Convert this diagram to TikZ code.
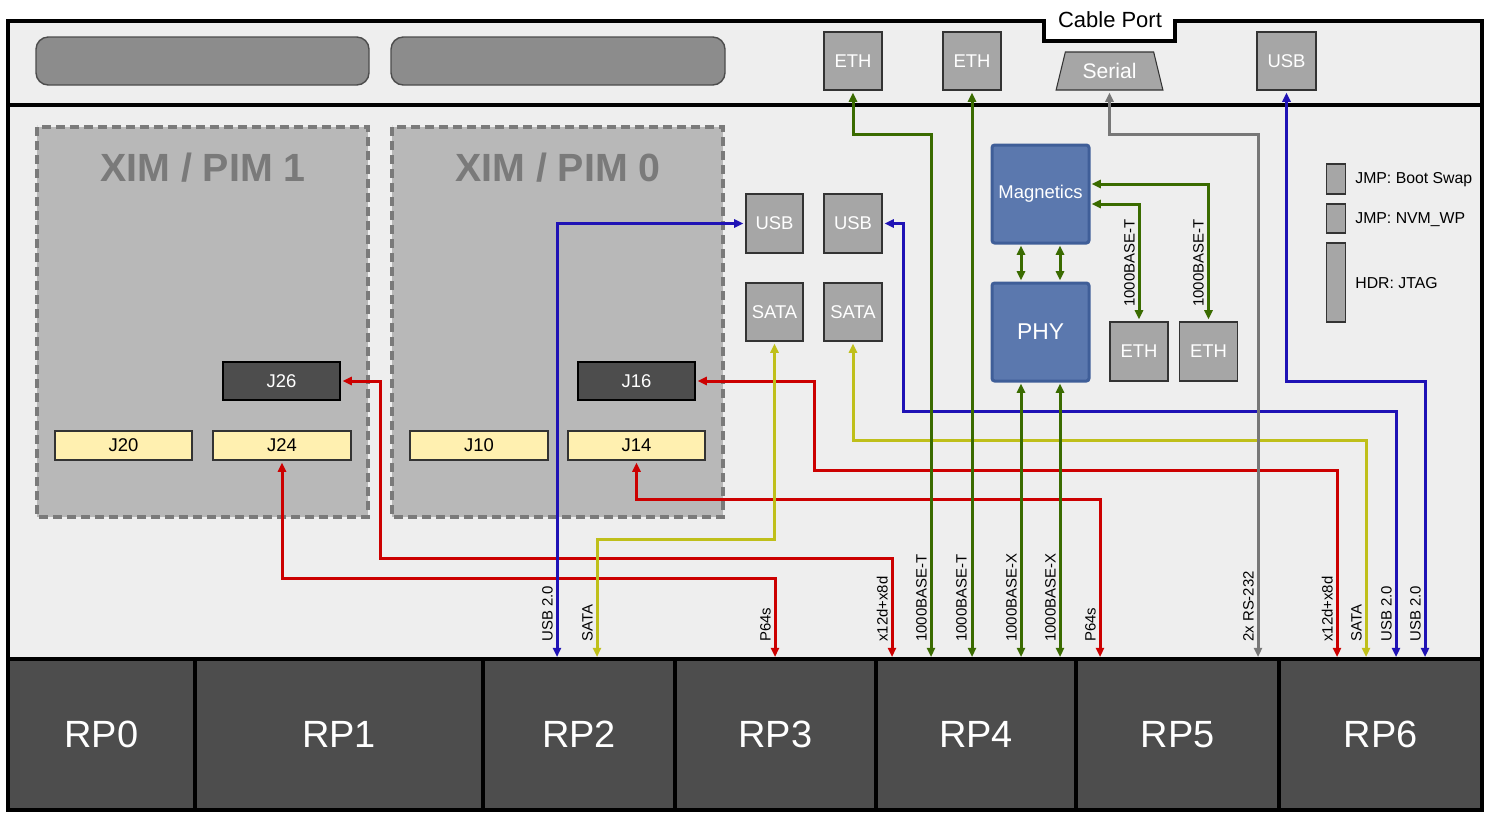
\documentclass[tikz,border=0pt]{standalone}
\usepackage{fontspec}
\setmainfont{Liberation Sans}
\usetikzlibrary{arrows.meta,shapes.geometric}

\newdimen\pxu
\pxu=0.02cm
\newcommand{\pxfont}[1]{\fontsize{#1}{#1}\selectfont}

\definecolor{panel}{HTML}{EEEEEE}
\definecolor{pillgray}{HTML}{8C8C8C}
\definecolor{portgray}{HTML}{A6A6A6}
\definecolor{pimfill}{HTML}{B8B8B8}
\definecolor{pimline}{HTML}{7A7A7A}
\definecolor{conn}{HTML}{4D4D4D}
\definecolor{hdr}{HTML}{FFF0B0}
\definecolor{chipfill}{HTML}{5B78AE}
\definecolor{chipline}{HTML}{3F5E98}
\definecolor{sigred}{HTML}{CC0000}
\definecolor{sigblue}{HTML}{1F12B5}
\definecolor{siggreen}{HTML}{3A6B00}
\definecolor{sigyellow}{HTML}{BFBF1A}
\definecolor{siggray}{HTML}{777777}

\begin{document}
\begin{tikzpicture}[
        x=0.02cm, y=-0.02cm,
        >={Triangle[length=5.2pt,width=4.6pt]},
        every node/.style={font=\pxfont{10.5}},
        wire/.style={line width=3\pxu,<->},
        port/.style={rectangle,draw=black!80,fill=portgray,text=white,
            line width=0.6pt,inner sep=0pt,outer sep=1.5pt},
        jack/.style={port,minimum width=58\pxu,minimum height=58\pxu},
        jumper/.style={port,minimum width=19\pxu},
        header/.style={rectangle,draw=black!80,fill=hdr,line width=0.6pt,
            minimum width=137\pxu,minimum height=29\pxu,inner sep=0pt,outer sep=1.5pt},
        plug/.style={rectangle,draw=black,fill=conn,text=white,line width=0.6pt,
            minimum width=117\pxu,minimum height=38\pxu,inner sep=0pt,outer sep=1.5pt},
        chip/.style={rectangle,rounded corners=1.5pt,draw=chipline,fill=chipfill,
            text=white,line width=3\pxu,minimum width=97\pxu,minimum height=98\pxu,
            inner sep=0pt,outer sep=1.5pt},
        rpbox/.style={rectangle,draw=black,fill=conn,text=white,line width=4\pxu,
            minimum height=151\pxu,inner sep=0pt,font=\pxfont{21.6}},
        pimbox/.style={fill=pimfill,draw=pimline,line width=4\pxu,
            dash pattern=on 9\pxu off 5\pxu},
        pimtitle/.style={text=pimline,font=\bfseries\pxfont{22.4}},
        pill/.style={fill=pillgray,draw=black!70,line width=0.8pt,rounded corners=7pt},
        lanelabel/.style={rotate=90,anchor=south west,inner sep=0pt,font=\pxfont{8.5}},
        note/.style={anchor=base west,inner sep=0pt,font=\pxfont{9}}
    ]

    \useasboundingbox (0,0) rectangle (1491,812);
    \fill[white] (0,0) rectangle (1491,812);

    % Chassis panel
    \fill[panel] (8,21) -- (1044,21) -- (1044,41) -- (1175,41) -- (1175,21)
        -- (1482,21) -- (1482,810) -- (8,810) -- cycle;
    \node[anchor=base,font=\pxfont{12.5}] (cableport) at (1110,27) {Cable Port};

    % Front bays
    \draw[pill] (36,37) rectangle (369,85);
    \draw[pill] (391,37) rectangle (725,85);

    % Front ports
    \node[jack] (ethtopa) at (853,61) {ETH};
    \node[jack] (ethtopb) at (972,61) {ETH};
    \node[port,trapezium,trapezium left angle=70,trapezium right angle=70,
        trapezium stretches=true,minimum width=107\pxu,minimum height=38\pxu,
        font=\pxfont{12}] (serial) at (1109.5,71) {Serial};
    \node[jack,minimum width=59\pxu] (usbtop) at (1286.5,61) {USB};

    % Module slots
    \draw[pimbox] (37,127) rectangle (368,517);
    \draw[pimbox] (392,127) rectangle (723,517);
    \node[pimtitle] (pim1) at (203,168) {XIM / PIM 1};
    \node[pimtitle] (pim0) at (558,168) {XIM / PIM 0};

    \node[plug] (j26) at (281.5,381) {J26};
    \node[plug] (j16) at (636.5,381) {J16};
    \node[header] (j20) at (123.5,445.5) {J20};
    \node[header,minimum width=138\pxu] (j24) at (282,445.5) {J24};
    \node[header,minimum width=138\pxu] (j10) at (479,445.5) {J10};
    \node[header] (j14) at (636.5,445.5) {J14};

    % Board connectors
    \node[jack,minimum width=57\pxu,minimum height=59\pxu] (usba) at (774.5,223.5) {USB};
    \node[jack,minimum height=59\pxu] (usbb) at (853,223.5) {USB};
    \node[jack,minimum width=57\pxu] (sataa) at (774.5,312) {SATA};
    \node[jack] (satab) at (853,312) {SATA};

    \node[chip] (magn) at (1040.5,194) {Magnetics};
    \node[chip,font=\pxfont{13}] (phy) at (1040.5,332) {PHY};
    \node[jack,minimum height=59\pxu] (ethsa) at (1139,351.5) {ETH};
    \node[jack,minimum height=59\pxu] (ethsb) at (1208.5,351.5) {ETH};

    % Jumpers
    \node[jumper,minimum height=30\pxu] (jmpboot) at (1336,179) {};
    \node[jumper,minimum height=29\pxu] (jmpnvm) at (1336,218.5) {};
    \node[jumper,minimum height=79\pxu] (hdrjtag) at (1336,282.5) {};
    \node[note] (jmpboottext) at (1355,183.5) {JMP: Boot Swap};
    \node[note] (jmpnvmtext) at (1355,223) {JMP: NVM\_WP};
    \node[note] (hdrjtagtext) at (1355,288) {HDR: JTAG};

    % Rear plugs
    \node[rpbox,minimum width=187\pxu] (rp0) at (101.5,734.5) {RP0};
    \node[rpbox,minimum width=288\pxu] (rp1) at (339,734.5) {RP1};
    \node[rpbox,minimum width=192\pxu] (rp2) at (579,734.5) {RP2};
    \node[rpbox,minimum width=201\pxu] (rp3) at (775.5,734.5) {RP3};
    \node[rpbox,minimum width=200\pxu] (rp4) at (976,734.5) {RP4};
    \node[rpbox,minimum width=203\pxu] (rp5) at (1177.5,734.5) {RP5};
    \node[rpbox,minimum width=203\pxu] (rp6) at (1380.5,734.5) {RP6};

    % Frame
    \draw[line width=4\pxu] (8,21) -- (1044,21) -- (1044,41) -- (1175,41) -- (1175,21)
        -- (1482,21) -- (1482,810) -- (8,810) -- cycle;
    \draw[line width=4.5\pxu] (8,105) -- (1482,105);
    \draw[line width=4\pxu] (8,659) -- (1482,659);

    % PCIe lanes
    \draw[wire,sigred] (j24.south) |- (775,578) -- (775,578 |- rp3.north);
    \draw[wire,sigred] (j26.east) -| (380,558) -- (892,558) -- (892,558 |- rp4.north);
    \draw[wire,sigred] (j14.south) |- (1100,499) -- (1100,499 |- rp5.north);
    \draw[wire,sigred] (j16.east) -| (814,470) -- (1337,470) -- (1337,470 |- rp6.north);

    % SATA
    \draw[wire,sigyellow] (sataa.south) |- (597,539) -- (597,539 |- rp2.north);
    \draw[wire,sigyellow] (satab.south) |- (1366,440) -- (1366,440 |- rp6.north);

    % USB
    \draw[wire,sigblue] (usba.west) -| (557,0 |- rp2.north);
    \draw[wire,sigblue] (usbb.east) -| (903,411) -- (1396,411) -- (1396,411 |- rp6.north);
    \draw[wire,sigblue] (usbtop.south) |- (1425,381) -- (1425,381 |- rp6.north);

    % Ethernet
    \draw[wire,siggreen] (ethtopa.south) |- (931,134) -- (931,134 |- rp4.north);
    \draw[wire,siggreen] (ethtopb.south) -- (ethtopb.south |- rp4.north);
    \draw[wire,siggreen] (phy.south -| 1021,0) -- (1021,0 |- rp4.north);
    \draw[wire,siggreen] (phy.south -| 1060,0) -- (1060,0 |- rp4.north);
    \draw[wire,siggreen] (magn.south -| 1021,0) -- (phy.north -| 1021,0);
    \draw[wire,siggreen] (magn.south -| 1060,0) -- (phy.north -| 1060,0);
    \draw[wire,siggreen] (ethsa.north) |- (magn.east |- 0,204);
    \draw[wire,siggreen] (ethsb.north) |- (magn.east |- 0,184);

    % Console
    \draw[wire,siggray] (serial.south) |- (1258,134) -- (1258,134 |- rp5.north);

    % Lane labels
    \node[lanelabel] (lblusba) at (553,642) {USB 2.0};
    \node[lanelabel] (lblsataa) at (593,642) {SATA};
    \node[lanelabel] (lblpcia) at (771,642) {P64s};
    \node[lanelabel] (lblpcib) at (888,642) {x12d+x8d};
    \node[lanelabel] (lbletha) at (927,642) {1000BASE-T};
    \node[lanelabel] (lblethb) at (967,642) {1000BASE-T};
    \node[lanelabel] (lblphya) at (1017,642) {1000BASE-X};
    \node[lanelabel] (lblphyb) at (1056,642) {1000BASE-X};
    \node[lanelabel] (lblpcic) at (1096,642) {P64s};
    \node[lanelabel] (lblserial) at (1254,642) {2x RS-232};
    \node[lanelabel] (lblpcid) at (1333,642) {x12d+x8d};
    \node[lanelabel] (lblsatab) at (1362,642) {SATA};
    \node[lanelabel] (lblusbb) at (1392,642) {USB 2.0};
    \node[lanelabel] (lblusbc) at (1421,642) {USB 2.0};
    \node[lanelabel] (lblmagna) at (1135,307) {1000BASE-T};
    \node[lanelabel] (lblmagnb) at (1204,307) {1000BASE-T};

\end{tikzpicture}
\end{document}
